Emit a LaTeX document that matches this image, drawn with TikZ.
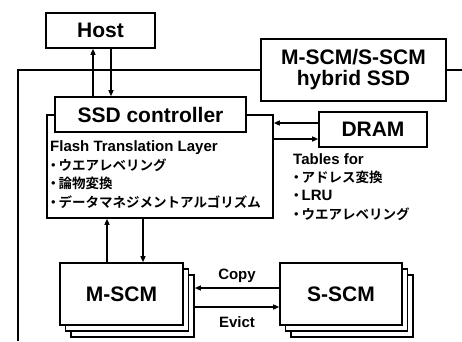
\documentclass[tikz,border=0pt]{standalone}
\usepackage{fontspec}
\setmainfont{Liberation Sans}
\newfontfamily\jp{Noto Sans CJK JP}[BoldFont={Noto Sans CJK JP Bold}]
\newcommand\jdot{\hspace*{-3.5pt}{\jp\bfseries\fontsize{13.5}{16}\selectfont ・}\hspace*{-1.5pt}}
\usetikzlibrary{arrows.meta}
\begin{document}
\begin{tikzpicture}[x=1pt,y=-1pt,
  box/.style={draw,line width=1.6pt,fill=white,inner sep=0pt,font=\bfseries\fontsize{21}{24}\selectfont},
  arr/.style={line width=1.3pt,-{Triangle[length=6pt,width=5pt]}},
  small/.style={inner sep=0pt,font=\bfseries\fontsize{15}{18}\selectfont},
  jtxt/.style={inner sep=0pt,font=\jp\bfseries\fontsize{13.5}{16}\selectfont},
  lbl/.style={inner sep=0pt,font=\bfseries\fontsize{15}{18}\selectfont}]
\useasboundingbox (0,0) rectangle (462,341);
% outer SSD box (extends beyond the picture)
\draw[line width=1.6pt] (18,341) -- (18,70) -- (462,70);
\node[box,minimum width=185pt,minimum height=62pt,align=center] (title) at (353.5,70) {M-SCM/S-SCM\\[-3pt]hybrid SSD};
% host
\node[box,minimum width=109pt,minimum height=35pt] (host) at (100.5,30.5) {Host};
% FTL box and controller
\node[box,minimum width=226pt,minimum height=103pt] (ftl) at (160,166.5) {};
\node[box,minimum width=191pt,minimum height=35pt] (ctrl) at (150.5,114.5) {SSD controller};
% DRAM
\node[box,minimum width=108pt,minimum height=35pt] (dram) at (373,129.5) {DRAM};
% FTL text
\node[small,anchor=base west] (f1) at (50,151) {Flash Translation Layer};
\node[jtxt,anchor=base west] (f2) at (50,170) {\jdot ウエアレベリング};
\node[jtxt,anchor=base west] (f3) at (50,188.5) {\jdot 論物変換};
\node[jtxt,anchor=base west] (f4) at (50,207) {\jdot データマネジメントアルゴリズム};
% tables text
\node[small,anchor=base west] (t1) at (293,164) {Tables for};
\node[jtxt,anchor=base west] (t2) at (293,182) {\jdot アドレス変換};
\node[small,anchor=base west] (t3) at (293,200) {\jdot LRU};
\node[jtxt,anchor=base west] (t4) at (293,219) {\jdot ウエアレベリング};
% M-SCM stack
\node[box,minimum width=123pt,minimum height=62pt] (m3) at (132.5,306) {};
\node[box,minimum width=123pt,minimum height=62pt] (m2) at (127,300) {};
\node[box,minimum width=123pt,minimum height=62pt] (m1) at (121.5,294) {M-SCM};
% S-SCM stack
\node[box,minimum width=122pt,minimum height=62pt] (s3) at (352,306) {};
\node[box,minimum width=122pt,minimum height=62pt] (s2) at (346.5,300) {};
\node[box,minimum width=122pt,minimum height=62pt] (s1) at (341,294) {S-SCM};
% coordinates for connector positions
\coordinate (xa) at (93,0);
\coordinate (xb) at (111,0);
\coordinate (ya) at (0,123);
\coordinate (yb) at (0,139);
\coordinate (xc) at (107,0);
\coordinate (xd) at (143,0);
\coordinate (yc) at (0,288);
\coordinate (yd) at (0,307);
% connectors
\draw[arr] (ctrl.north -| xa) -- (host.south -| xa);
\draw[arr] (host.south -| xb) -- (ctrl.north -| xb);
\draw[arr] (dram.west |- ya) -- (ftl.east |- ya);
\draw[arr] (ftl.east |- yb) -- (dram.west |- yb);
\draw[arr] (m1.north -| xc) -- (ftl.south -| xc);
\draw[arr] (ftl.south -| xd) -- (m1.north -| xd);
\draw[arr] (s1.west |- yc) -- (m3.east |- yc);
\draw[arr] (m3.east |- yd) -- (s1.west |- yd);
\node[lbl] (copy) at (237,276) {Copy};
\node[lbl] (evict) at (237,322) {Evict};
\end{tikzpicture}
\end{document}
